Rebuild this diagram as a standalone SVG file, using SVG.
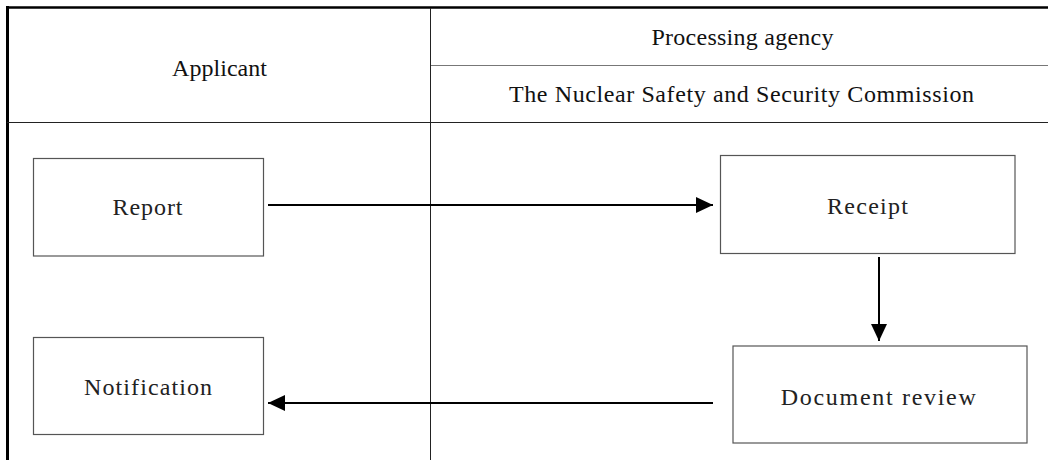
<svg xmlns="http://www.w3.org/2000/svg" width="1048" height="460" viewBox="0 0 1048 460">
<style>
text{font-family:"Liberation Serif","Times New Roman",serif;fill:#111;text-anchor:middle}
.hd{font-size:24px}
.lb{font-size:24px;fill:#222}
.box{fill:#fff;stroke:#555;stroke-width:1.2}
.conn{stroke:#000;stroke-width:2;fill:none}
</style>
<defs>
<marker id="ah" markerWidth="17" markerHeight="16" refX="17" refY="8" orient="auto" markerUnits="userSpaceOnUse">
<path d="M0,0 L17,8 L0,16 Z" fill="#000"/>
</marker>
</defs>
<rect x="0" y="0" width="1048" height="460" fill="#fff"/>
<g id="frame">
<line x1="7.5" y1="6" x2="7.5" y2="460" stroke="#000" stroke-width="3"/>
<line x1="6" y1="7.5" x2="1048" y2="7.5" stroke="#000" stroke-width="2.5"/>
<line x1="7" y1="122.5" x2="1048" y2="122.5" stroke="#222" stroke-width="1"/>
<line x1="430.5" y1="8" x2="430.5" y2="460" stroke="#222" stroke-width="1"/>
<line x1="431" y1="65.5" x2="1048" y2="65.5" stroke="#777" stroke-width="1"/>
</g>
<g id="header-applicant"><text class="hd" x="219.5" y="76" textLength="95" lengthAdjust="spacing">Applicant</text></g>
<g id="header-agency"><text class="hd" x="742.5" y="45" textLength="182" lengthAdjust="spacing">Processing  agency</text></g>
<g id="header-nssc"><text class="hd" x="741.5" y="101.7" textLength="465" lengthAdjust="spacing">The  Nuclear  Safety  and  Security  Commission</text></g>
<g id="node-report">
<rect class="box" x="33.5" y="158.5" width="230" height="97.5"/>
<text class="lb" x="147.5" y="214.5" textLength="70" lengthAdjust="spacing">Report</text>
</g>
<g id="node-notification">
<rect class="box" x="33.5" y="337.5" width="230" height="97"/>
<text class="lb" x="148" y="395" textLength="128" lengthAdjust="spacing">Notification</text>
</g>
<g id="node-receipt">
<rect class="box" x="720.5" y="155.5" width="294.5" height="98"/>
<text class="lb" x="867.5" y="213.5" textLength="81" lengthAdjust="spacing">Receipt</text>
</g>
<g id="node-review">
<rect class="box" x="733" y="346" width="294" height="97"/>
<text class="lb" x="878.3" y="405" textLength="195" lengthAdjust="spacing">Document  review</text>
</g>
<g id="connectors">
<line class="conn" x1="268" y1="205" x2="713" y2="205" marker-end="url(#ah)"/>
<line class="conn" x1="879" y1="257" x2="879" y2="341" marker-end="url(#ah)"/>
<line class="conn" x1="713" y1="403" x2="268" y2="403" marker-end="url(#ah)"/>
</g>
</svg>
